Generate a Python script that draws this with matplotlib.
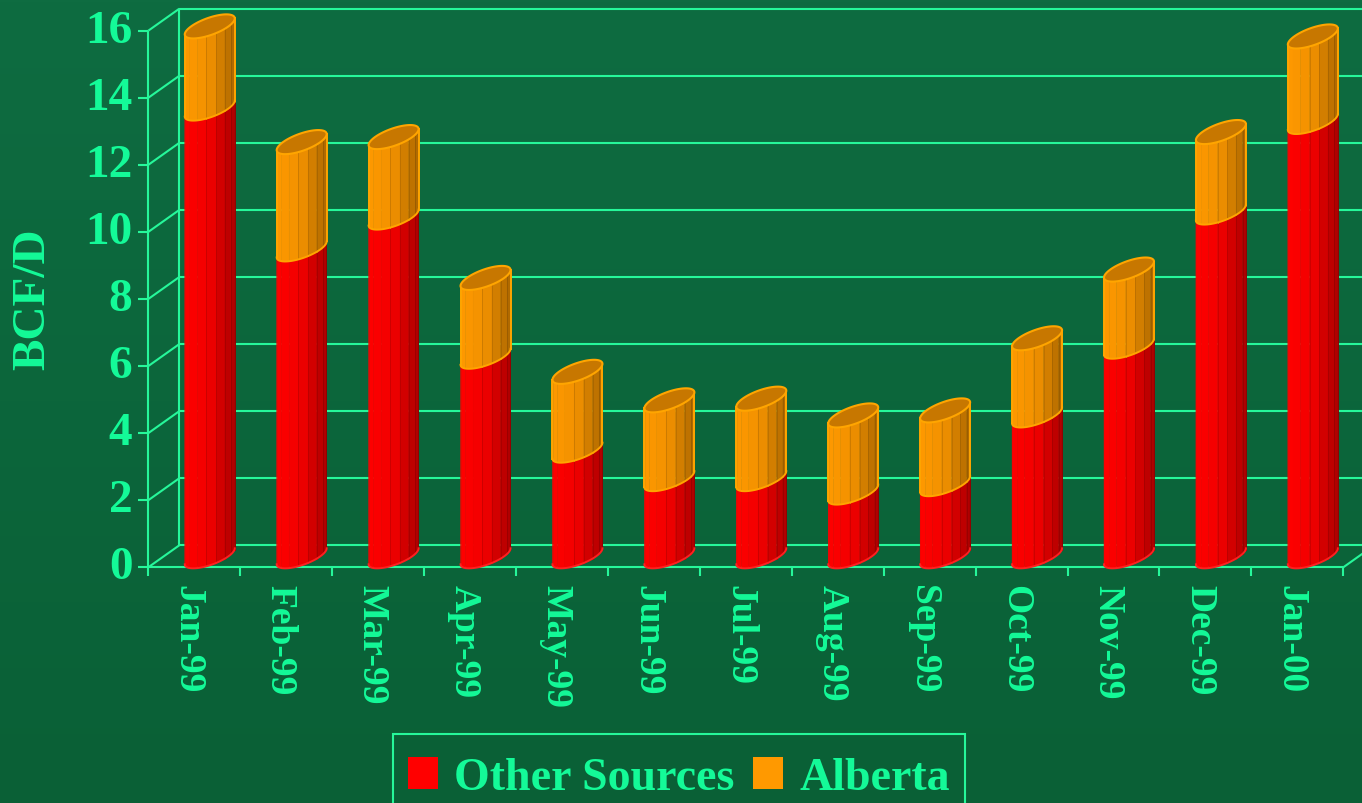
import numpy as np
import matplotlib
matplotlib.use('Agg')
import matplotlib.pyplot as plt
from matplotlib.patches import Polygon, Patch, Rectangle
from matplotlib.colors import to_rgb

# ---------------- data ----------------
months = ['Jan-99', 'Feb-99', 'Mar-99', 'Apr-99', 'May-99', 'Jun-99', 'Jul-99',
          'Aug-99', 'Sep-99', 'Oct-99', 'Nov-99', 'Dec-99', 'Jan-00']
other_sources = [13.35, 9.15, 10.1, 5.95, 3.15, 2.3, 2.3, 1.9, 2.15, 4.2, 6.25, 10.25, 12.95]
alberta = [2.45, 3.2, 2.4, 2.35, 2.35, 2.35, 2.4, 2.3, 2.2, 2.3, 2.3, 2.4, 2.55]
series_names = ['Other Sources', 'Alberta']
y_ticks = [0, 2, 4, 6, 8, 10, 12, 14, 16]
y_label = 'BCF/D'

# ---------------- style ----------------
RED = '#FF0000'
ORANGE = '#FF9900'
LINE = '#26F79A'
TEXT = '#14FA98'
BG_TOP = np.array(to_rgb('#0E6C41'))
BG_BOT = np.array(to_rgb('#0A6036'))
FONT = dict(family='Liberation Serif', weight='bold')

W, H = 1362, 804
fig = plt.figure(figsize=(W / 100, H / 100), dpi=100)

# background gradient
bg = fig.add_axes([0, 0, 1, 1])
bg.set_zorder(-5)
g = np.linspace(0, 1, 256)[:, None, None]
img = BG_TOP * (1 - g) + BG_BOT * g
img = np.repeat(img, 4, axis=1)
bg.imshow(img, aspect='auto', extent=[0, 1, 0, 1], origin='upper')
bg.axis('off')

# main axes: the mid-depth plane of the 3D box
ax = fig.add_axes([163.8 / W, (H - 557.3) / H, 1195 / W, 536.6 / H])
ax.set_xlim(-0.5, len(months) - 0.5)
ax.set_ylim(0, 16)
ax.axis('off')

sx = (len(months)) / ax.bbox.width   # data units per pixel (x)
sy = 16 / ax.bbox.height             # data units per pixel (y)
DX, DY = 15.5, 11.0                  # half depth offset in pixels

xl, xr = -0.5, len(months) - 0.5
lk = dict(color=LINE, lw=1.5, clip_on=False, zorder=1, solid_capstyle='butt')

for v in y_ticks:
    # back wall gridline
    ax.plot([xl + DX * sx, xr + DX * sx + 30 * sx], [v + DY * sy] * 2, **lk)
    # side wall diagonal
    ax.plot([xl - DX * sx, xl + DX * sx], [v - DY * sy, v + DY * sy], **lk)
    # tick mark
    ax.plot([xl - DX * sx - 10 * sx, xl - DX * sx], [v - DY * sy] * 2, **lk)
    ax.text(xl - DX * sx - 16 * sx, v - DY * sy, str(v), ha='right', va='center',
            color=TEXT, fontsize=34, clip_on=False, **FONT)

# verticals of the side wall
ax.plot([xl - DX * sx] * 2, [-DY * sy, 16 - DY * sy], **lk)
ax.plot([xl + DX * sx] * 2, [DY * sy, 16 + DY * sy], **lk)
# floor front edge and right diagonal
ax.plot([xl - DX * sx, xr - DX * sx], [-DY * sy] * 2, **lk)
ax.plot([xr - DX * sx, xr + DX * sx], [-DY * sy, DY * sy], **lk)
# category ticks
for k in range(len(months) + 1):
    ax.plot([k - 0.5 - DX * sx] * 2, [-DY * sy, -DY * sy - 9 * sy], **lk)
for i, m in enumerate(months):
    ax.text(i - DX * sx - 6 * sx, -DY * sy - 17 * sy, m, rotation=-90,
            ha='center', va='top', color=TEXT, fontsize=27, clip_on=False, **FONT)

ax.text(xl - 131 * sx, 8 - 10.5 * sy, y_label, rotation=90, ha='center', va='center',
        color=TEXT, fontsize=34, clip_on=False, **FONT)

# ---------------- cylinders ----------------
A, C, D = 25.0, 8.0, 9.0   # ellipse params in pixels
t_edges = np.deg2rad([180, 195, 217.5, 240, 262.5, 285, 307.5, 330, 352.5, 360])


def shade(t):
    x = np.cos(t)
    return 1 - 0.06 * (x + 1) if x <= 0 else 0.94 - 0.26 * x


def ell(xc, yv, t):
    return xc + A * np.cos(t) * sx, yv + (C * np.cos(t) + D * np.sin(t)) * sy


def cylinder(xc, y0, y1, base, edge, z, top=True, outline_sides=True):
    rgb = np.array(to_rgb(base))
    for t0, t1 in zip(t_edges[:-1], t_edges[1:]):
        ts = np.linspace(t0, t1, 8)
        bx, by = ell(xc, y0, ts)
        tx, ty = ell(xc, y1, ts[::-1])
        poly = np.column_stack([np.r_[bx, tx], np.r_[by, ty]])
        col = np.clip(rgb * shade((t0 + t1) / 2), 0, 1)
        ax.add_patch(Polygon(poly, closed=True, facecolor=col, edgecolor=col, lw=0.3,
                             zorder=z, clip_on=False))
    for t in t_edges[4:-1]:
        bx, by = ell(xc, y0, t)
        tx, ty = ell(xc, y1, t)
        col = np.clip(rgb * shade(t) * 0.85, 0, 1)
        ax.plot([bx, tx], [by, ty], color=col, lw=0.7, zorder=z + 0.1, clip_on=False)
    ts = np.linspace(np.pi, 2 * np.pi, 60)
    bx, by = ell(xc, y0, ts)
    ax.plot(bx, by, color=edge, lw=1.4, zorder=z + 0.2, clip_on=False)
    if outline_sides:
        for t in (np.pi, 2 * np.pi):
            px0, py0 = ell(xc, y0, t)
            px1, py1 = ell(xc, y1, t)
            ax.plot([px0, px1], [py0, py1], color=edge, lw=1.4, zorder=z + 0.2, clip_on=False)
    if top:
        ts = np.linspace(0, 2 * np.pi, 100)
        ex, ey = ell(xc, y1, ts)
        ax.add_patch(Polygon(np.column_stack([ex, ey]), closed=True,
                             facecolor=np.clip(rgb * 0.78, 0, 1), edgecolor=edge,
                             lw=1.5, zorder=z + 0.3, clip_on=False))


for i in range(len(months)):
    o = other_sources[i]
    a = alberta[i]
    cylinder(i, 0, o, RED, '#FF2020', 3, top=False, outline_sides=False)
    cylinder(i, o, o + a, ORANGE, '#FFA500', 4, top=True, outline_sides=True)

# ---------------- legend ----------------
handles = [Patch(facecolor=RED, edgecolor='none'), Patch(facecolor=ORANGE, edgecolor='none')]
leg = fig.legend(handles, series_names, loc='upper left',
                 bbox_to_anchor=(393 / W, 1 - 743 / H), ncol=2, frameon=False,
                 prop=dict(FONT, size=33), labelcolor=TEXT,
                 handlelength=0.66, handleheight=0.7, handletextpad=0.35,
                 columnspacing=0.4, borderpad=0.33, borderaxespad=0)
fig.canvas.draw()
bb = leg.get_window_extent()
box_top = (H - 735) / H
fig.add_artist(Rectangle((bb.x0 / W, -0.02), bb.width / W, box_top + 0.02,
                         transform=fig.transFigure, facecolor='none',
                         edgecolor=LINE, lw=1.5, clip_on=False))

fig.savefig('out.png', dpi=100)
